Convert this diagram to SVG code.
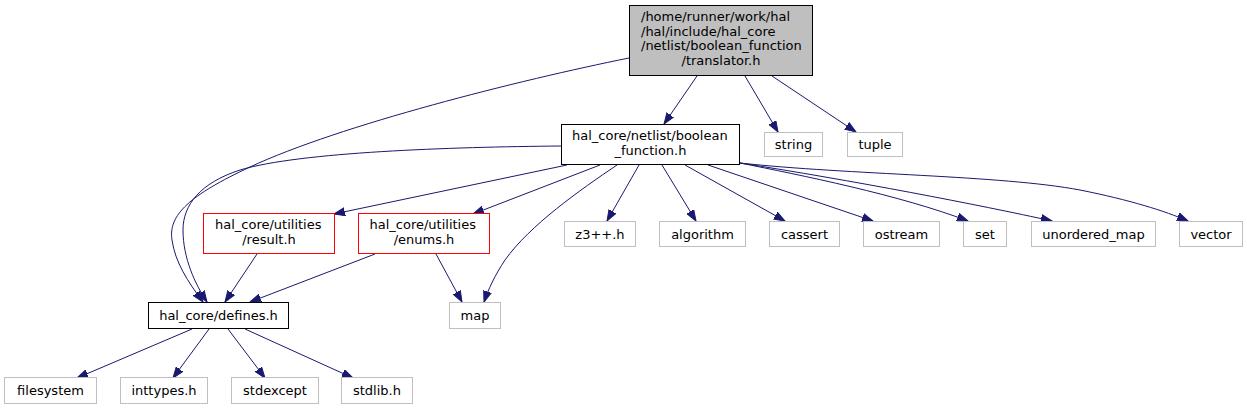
<svg xmlns="http://www.w3.org/2000/svg" width="1247" height="409" viewBox="0 0 1247 409">
<style>
text{font-family:"DejaVu Sans","Liberation Sans",sans-serif;font-size:13px;fill:#000}
.c{text-anchor:middle}
.n rect{fill:#fff;stroke:#000;stroke-width:1}
.g rect{fill:#fff;stroke:#bfbfbf;stroke-width:1}
.r rect{fill:#fff;stroke:#ff0000;stroke-width:1}
.root rect{fill:#bfbfbf;stroke:#000;stroke-width:1}
.e path{fill:none;stroke:#191970;stroke-width:1;marker-end:url(#ah)}
</style>
<defs>
<marker id="ah" markerUnits="userSpaceOnUse" markerWidth="12" markerHeight="9" refX="11" refY="4.5" orient="auto" viewBox="0 0 12 9">
<path d="M0,0.5 L11,4.5 L0,8.5 z" fill="#191970" stroke="#191970" stroke-width="1"/>
</marker>
</defs>
<rect width="1247" height="409" fill="#fff"/>
<g id="edges" class="e">
<path d="M697,76 L664,124"/>
<path d="M745,76 L778,132"/>
<path d="M772,76 L856,132"/>
<path d="M629,58 C520,80 340,125 250,167 C190,195 168,215 172,240 C175,262 188,282 203,302"/>
<path d="M561,146 C450,147 300,152 240,170 C200,183 183,205 183,230 C183,258 195,284 207,302"/>
<path d="M567,165 L334,214"/>
<path d="M600,165 L473,214"/>
<path d="M617,165 C580,190 530,225 505,260 C495,275 488,290 484,302"/>
<path d="M436,254 L462,302"/>
<path d="M375,254 L250,302"/>
<path d="M257,254 L225,302"/>
<path d="M639,165 L607,221"/>
<path d="M662,165 L696,221"/>
<path d="M685,165 L785,221"/>
<path d="M708,165 L873,221"/>
<path d="M740,163 C800,175 900,195 968,221"/>
<path d="M740,163 C850,180 980,205 1052,221"/>
<path d="M740,163 C850,175 1000,175 1080,190 C1130,200 1165,211 1188,221"/>
<path d="M192,329 L77,378"/>
<path d="M209,329 L173,378"/>
<path d="M228,329 L265,378"/>
<path d="M245,329 L353,378"/>
</g>
<g id="node_translator" class="root">
<rect x="629.5" y="5.5" width="183" height="70"/>
<text x="641" y="21">/home/runner/work/hal</text>
<text x="641" y="35.5">/hal/include/hal_core</text>
<text x="641" y="50">/netlist/boolean_function</text>
<text x="721" y="64.5" class="c">/translator.h</text>
</g>
<g id="node_boolean_function" class="n">
<rect x="561.5" y="124.5" width="178" height="40"/>
<text x="572" y="140">hal_core/netlist/boolean</text>
<text x="650.5" y="154.5" class="c">_function.h</text>
</g>
<g id="node_string" class="g"><rect x="764.5" y="132.5" width="58" height="24"/><text x="793.5" y="149" class="c">string</text></g>
<g id="node_tuple" class="g"><rect x="847.5" y="132.5" width="55" height="24"/><text x="875" y="149" class="c">tuple</text></g>
<g id="node_result" class="r">
<rect x="203.5" y="213.5" width="131" height="40"/>
<text x="215" y="229">hal_core/utilities</text>
<text x="269" y="243.5" class="c">/result.h</text>
</g>
<g id="node_enums" class="r">
<rect x="358.5" y="213.5" width="131" height="40"/>
<text x="369.5" y="229">hal_core/utilities</text>
<text x="424" y="243.5" class="c">/enums.h</text>
</g>
<g id="node_defines" class="n"><rect x="148.5" y="302.5" width="140" height="26"/><text x="218.5" y="320" class="c">hal_core/defines.h</text></g>
<g id="node_map" class="g"><rect x="449.5" y="302.5" width="51" height="26"/><text x="475" y="320" class="c">map</text></g>
<g id="node_filesystem" class="g"><rect x="4.5" y="377.5" width="92" height="26"/><text x="50.5" y="395" class="c">filesystem</text></g>
<g id="node_inttypes" class="g"><rect x="120.5" y="377.5" width="87" height="26"/><text x="164" y="395" class="c">inttypes.h</text></g>
<g id="node_stdexcept" class="g"><rect x="231.5" y="377.5" width="87" height="26"/><text x="275" y="395" class="c">stdexcept</text></g>
<g id="node_stdlib" class="g"><rect x="341.5" y="377.5" width="71" height="26"/><text x="377" y="395" class="c">stdlib.h</text></g>
<g id="node_z3" class="g"><rect x="564.5" y="221.5" width="71" height="25"/><text x="600" y="238.5" class="c">z3++.h</text></g>
<g id="node_algorithm" class="g"><rect x="659.5" y="221.5" width="86" height="25"/><text x="702.5" y="238.5" class="c">algorithm</text></g>
<g id="node_cassert" class="g"><rect x="769.5" y="221.5" width="70" height="25"/><text x="804.5" y="238.5" class="c">cassert</text></g>
<g id="node_ostream" class="g"><rect x="863.5" y="221.5" width="76" height="25"/><text x="901.5" y="238.5" class="c">ostream</text></g>
<g id="node_set" class="g"><rect x="963.5" y="221.5" width="43" height="25"/><text x="985" y="238.5" class="c">set</text></g>
<g id="node_unordered_map" class="g"><rect x="1031.5" y="221.5" width="124" height="25"/><text x="1093.5" y="238.5" class="c">unordered_map</text></g>
<g id="node_vector" class="g"><rect x="1179.5" y="221.5" width="63" height="25"/><text x="1211" y="238.5" class="c">vector</text></g>
</svg>
